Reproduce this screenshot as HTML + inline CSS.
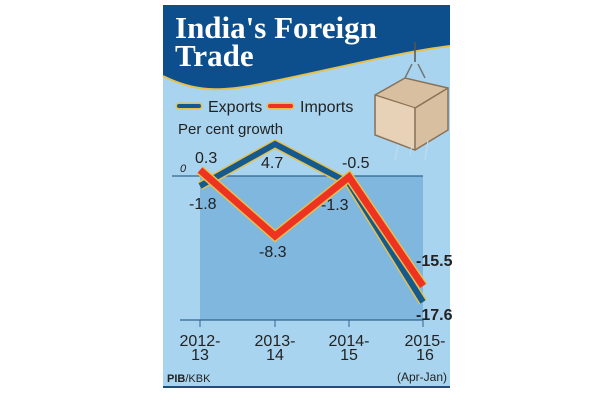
<!DOCTYPE html>
<html><head><style>body{margin:0;background:#fff}svg{display:block}</style></head><body>
<svg width="600" height="400" viewBox="0 0 600 400" font-family="Liberation Sans, sans-serif">
<rect x="163" y="5" width="287" height="383" fill="#a9d4ef"/>
<line x1="163" y1="387" x2="450" y2="387" stroke="#1d4f78" stroke-width="2"/>
<path d="M163 5 H450 V46 C400 52 330 70 260 84 C220 92 195 92 163 76 Z" fill="#0c4f8c"/>
<path d="M450 46 C400 52 330 70 260 84 C220 92 195 92 163 76" fill="none" stroke="#e6c04a" stroke-width="2"/>
<g font-family="Liberation Serif, serif" font-weight="bold" font-size="31" fill="#fff">
<text x="175" y="38">India's Foreign</text><text x="175" y="66">Trade</text></g>
<!-- box -->
<line x1="415" y1="42" x2="415" y2="62" stroke="#555" stroke-width="1.5"/>
<path d="M412 64 L405 78 M418 64 L425 78" stroke="#777" stroke-width="1.5"/>
<path d="M375 95 L405 78 L448 88 L448 130 L415 150 L375 135 Z" fill="#d7bfa0" stroke="#8a7258" stroke-width="1.5"/>
<path d="M375 95 L415 108 L448 88 M415 108 L415 150" fill="none" stroke="#8a7258" stroke-width="1.5"/>
<path d="M376 96 L414 108 L414 149 L376 134 Z" fill="#e7d2b7"/>
<path d="M395 160 L398 145 M425 160 L428 140 M410 155 L412 145" stroke="#c7dcea" stroke-width="1"/>
<!-- legend -->
<line x1="179" y1="106" x2="199" y2="106" stroke="#e6c04a" stroke-width="7" stroke-linecap="round"/>
<line x1="179" y1="106" x2="199" y2="106" stroke="#155a8e" stroke-width="4" stroke-linecap="round"/>
<text x="208" y="112" font-size="16" fill="#222">Exports</text>
<line x1="270" y1="106" x2="291" y2="106" stroke="#e6c04a" stroke-width="7" stroke-linecap="round"/>
<line x1="270" y1="106" x2="291" y2="106" stroke="#ee3322" stroke-width="4" stroke-linecap="round"/>
<text x="300" y="112" font-size="16" fill="#222">Imports</text>
<text x="178" y="134" font-size="15" fill="#222">Per cent growth</text>
<!-- plot -->
<rect x="200" y="176" width="223" height="144" fill="#7fb7de"/>
<line x1="172" y1="176" x2="423" y2="176" stroke="#33648f" stroke-width="1.2"/>
<line x1="180" y1="320" x2="423" y2="320" stroke="#33648f" stroke-width="1.2"/>
<g stroke="#33648f" stroke-width="1"><line x1="200" y1="320" x2="200" y2="327"/><line x1="275" y1="320" x2="275" y2="327"/><line x1="349" y1="320" x2="349" y2="327"/><line x1="423" y1="320" x2="423" y2="327"/></g>
<text x="180" y="172" font-size="11" font-style="italic" fill="#222">0</text>
<polyline points="200,186 275,144 349,183 423,302" fill="none" stroke="#e6c04a" stroke-width="9"/>
<polyline points="200,186 275,144 349,183 423,302" fill="none" stroke="#155a8e" stroke-width="6"/>
<polyline points="200,170 275,236 349,177 423,286" fill="none" stroke="#e6c04a" stroke-width="10"/>
<polyline points="200,170 275,236 349,177 423,286" fill="none" stroke="#ee3322" stroke-width="7"/>
<g font-size="16" fill="#222">
<text x="195" y="163">0.3</text><text x="261" y="168">4.7</text><text x="342" y="168">-0.5</text>
<text x="189" y="209">-1.8</text><text x="321" y="210">-1.3</text><text x="259" y="257">-8.3</text>
<text x="416" y="266" font-weight="bold">-15.5</text><text x="416" y="320" font-weight="bold">-17.6</text>
</g>
<g font-size="16" fill="#222" text-anchor="middle">
<text x="200" y="346">2012-</text><text x="200" y="360">13</text>
<text x="275" y="346">2013-</text><text x="275" y="360">14</text>
<text x="349" y="346">2014-</text><text x="349" y="360">15</text>
<text x="425" y="346">2015-</text><text x="425" y="360">16</text>
<text x="422" y="381" font-size="12">(Apr-Jan)</text>
</g>
<text x="167" y="382" font-size="11" fill="#222"><tspan font-weight="bold">PIB</tspan>/KBK</text>
</svg>
</body></html>
